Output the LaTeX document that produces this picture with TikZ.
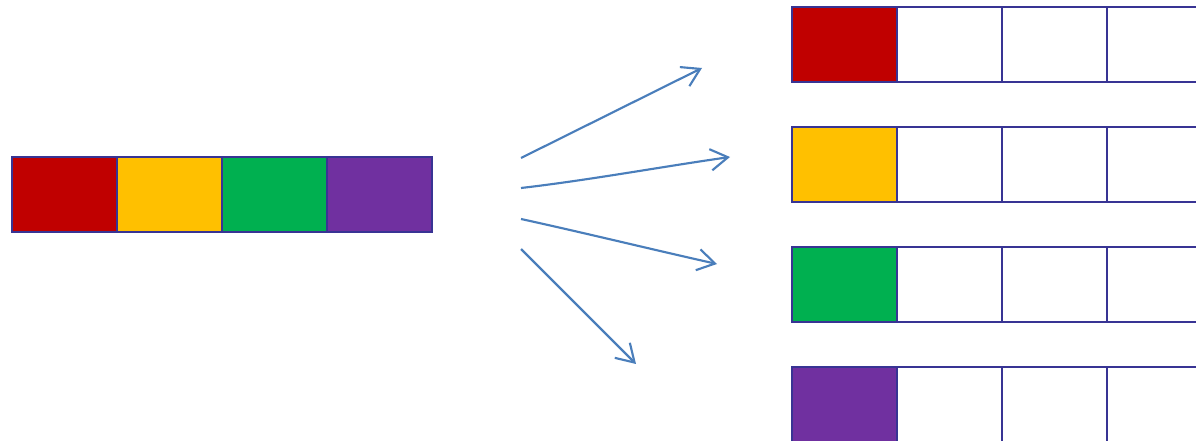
\documentclass[tikz,border=0pt]{standalone}
\usetikzlibrary{arrows.meta}
\definecolor{bordc}{RGB}{56,52,148}
\definecolor{arrc}{RGB}{74,126,187}
\definecolor{cred}{RGB}{192,0,0}
\definecolor{cyel}{RGB}{255,192,0}
\definecolor{cgrn}{RGB}{0,176,80}
\definecolor{cpur}{RGB}{112,48,160}
\tikzset{
  cell/.style={draw=bordc, line width=1.7pt, minimum width=78.75pt, minimum height=56.25pt, inner sep=0pt, outer sep=0pt, anchor=north west},
  fanarrow/.style={draw=arrc, line width=1.6pt, -{Straight Barb[length=13pt,width=16pt,line width=1.6pt]}}
}
\begin{document}
\begin{tikzpicture}[x=0.75pt,y=-0.75pt]
\useasboundingbox (0,0) rectangle (1196,441);
\clip (0,0) rectangle (1196,441);
% left bar
\node[cell, fill=cred] (l1) at (12,157) {};
\node[cell, fill=cyel] (l2) at (117,157) {};
\node[cell, fill=cgrn] (l3) at (222,157) {};
\node[cell, fill=cpur] (l4) at (327,157) {};
% right grids
\foreach \r/\y/\c in {1/7/cred, 2/127/cyel, 3/247/cgrn, 4/367/cpur} {
  \node[cell, fill=\c] (r\r a) at (792,\y) {};
  \node[cell] (r\r b) at (897,\y) {};
  \node[cell] (r\r c) at (1002,\y) {};
  \node[cell] (r\r d) at (1107,\y) {};
}
% arrows
\coordinate (s1) at (521,158);
\coordinate (s2) at (521,188);
\coordinate (s3) at (521,219);
\coordinate (s4) at (521,249);
\coordinate (e1) at (702,68);
\coordinate (e2) at (730,157);
\coordinate (e3) at (717,264);
\coordinate (e4) at (636,364);
\draw[fanarrow] (s1) -- (e1);
\draw[fanarrow] (s2) .. controls (590,180) and (660,167) .. (e2);
\draw[fanarrow] (s3) .. controls (585,233) and (650,249) .. (e3);
\draw[fanarrow] (s4) -- (e4);
\end{tikzpicture}
\end{document}
